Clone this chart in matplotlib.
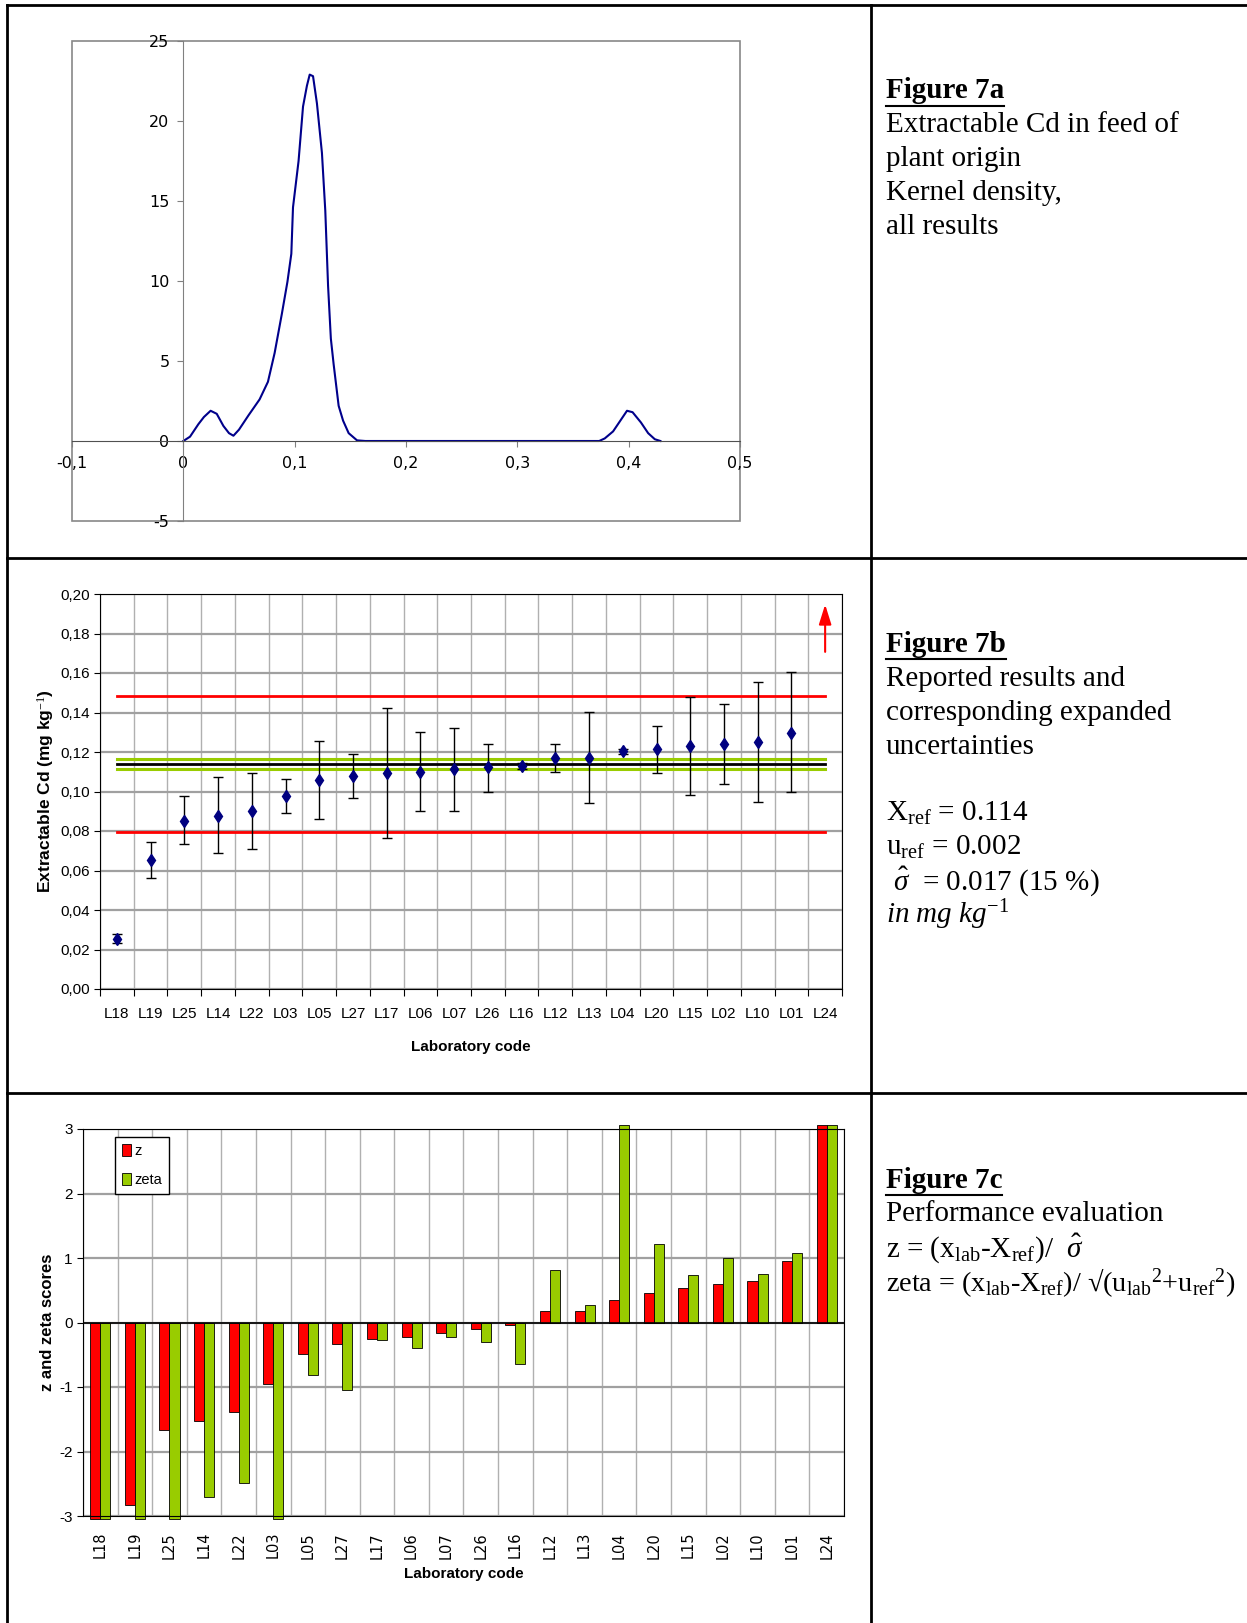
import matplotlib
matplotlib.use('Agg')
import matplotlib.pyplot as plt
from matplotlib import font_manager
from matplotlib.lines import Line2D
from matplotlib.patches import Rectangle
import numpy as np

# Figure 7a - kernel density
kd_x = [0.0, 0.006, 0.0135, 0.0185, 0.0245, 0.030, 0.036, 0.041, 0.045, 0.050,
        0.0585, 0.0685, 0.076, 0.082, 0.0885, 0.0935, 0.097, 0.0985, 0.1035, 0.1075,
        0.111, 0.1135, 0.1165, 0.120, 0.1245, 0.1275, 0.130, 0.1325, 0.135, 0.1395,
        0.1435, 0.1485, 0.156, 0.1635, 0.3735, 0.3785, 0.386, 0.3925, 0.3985, 0.4035,
        0.411, 0.4175, 0.4235, 0.4285]
kd_y = [0.0, 0.27, 1.05, 1.5, 1.89, 1.7, 0.94, 0.49, 0.33, 0.71,
        1.6, 2.6, 3.7, 5.5, 7.95, 9.95, 11.7, 14.6, 17.5, 20.9,
        22.2, 22.9, 22.8, 21.1, 18.0, 14.4, 9.7, 6.4, 4.8, 2.2,
        1.27, 0.49, 0.04, 0.0, 0.0, 0.16, 0.6, 1.27, 1.89, 1.8,
        1.16, 0.49, 0.11, 0.0]

# Figure 7b - reported results with expanded uncertainties (mg/kg)
labs = ['L18', 'L19', 'L25', 'L14', 'L22', 'L03', 'L05', 'L27', 'L17', 'L06', 'L07',
        'L26', 'L16', 'L12', 'L13', 'L04', 'L20', 'L15', 'L02', 'L10', 'L01', 'L24']
cd_val = [0.0253, 0.0652, 0.0853, 0.0878, 0.0901, 0.0976, 0.1057, 0.1079, 0.1092, 0.1101, 0.1113,
          0.1122, 0.1128, 0.1170, 0.1168, 0.1204, 0.1217, 0.1231, 0.1238, 0.1250, 0.1298, np.nan]
cd_hi = [0.0277, 0.0745, 0.0976, 0.1072, 0.1092, 0.1065, 0.1257, 0.1188, 0.1423, 0.1300, 0.1320,
         0.1238, 0.1142, 0.1238, 0.1401, 0.1216, 0.1334, 0.1476, 0.1443, 0.1553, 0.1603, np.nan]
cd_lo = [0.0235, 0.0563, 0.0736, 0.0687, 0.0707, 0.0889, 0.0860, 0.0969, 0.0764, 0.0901, 0.0899,
         0.0997, 0.1113, 0.1099, 0.0942, 0.1190, 0.1092, 0.0983, 0.1038, 0.0949, 0.0997, np.nan]
x_ref = 0.114
lim_red = [0.0796, 0.1486]
lim_green = [0.1113, 0.1167]
arrow_from, arrow_to = 0.1707, 0.1947   # L24 off scale
cd_ticks = [0.00, 0.02, 0.04, 0.06, 0.08, 0.10, 0.12, 0.14, 0.16, 0.18, 0.20]

# Figure 7c - z and zeta scores
z_score = [-3.05, -2.83, -1.66, -1.52, -1.39, -0.96, -0.485, -0.33, -0.25, -0.23, -0.17,
           -0.105, -0.04, 0.18, 0.18, 0.35, 0.45, 0.54, 0.60, 0.64, 0.95, 3.06]
zeta_score = [-3.05, -3.05, -3.05, -2.70, -2.49, -3.05, -0.81, -1.04, -0.27, -0.395, -0.23,
              -0.31, -0.65, 0.81, 0.27, 3.06, 1.22, 0.73, 1.00, 0.75, 1.075, 3.06]

W, H = 1247, 1623
names = {f.name for f in font_manager.fontManager.ttflist}
narrow = 'Liberation Sans Narrow' if 'Liberation Sans Narrow' in names else 'Liberation Sans'
plt.rcParams['font.family'] = ['Liberation Sans', 'DejaVu Sans']
plt.rcParams['mathtext.fontset'] = 'custom'
plt.rcParams['mathtext.rm'] = 'Liberation Serif'
plt.rcParams['mathtext.it'] = 'Liberation Serif:italic'

fig = plt.figure(figsize=(W / 100, H / 100), dpi=100)


def box(l, t, r, b):
    return [l / W, 1 - b / H, (r - l) / W, (b - t) / H]


def fline(x0, y0, x1, y1, lw=2):
    fig.add_artist(Line2D([x0 / W, x1 / W], [1 - y0 / H, 1 - y1 / H],
                          transform=fig.transFigure, color='black', lw=lw))


# table frame
fline(7, 4.5, W, 4.5)
fline(7, 4.5, 7, H)
fline(871, 4.5, 871, H)
fline(7, 558, W, 558)
fline(7, 1093, W, 1093)

# ---------- 7a ----------
ax1 = fig.add_axes(box(72, 41, 740, 521))
ax1.plot(kd_x, kd_y, color='#00008B', lw=1.5)
ax1.set_xlim(-0.1, 0.5)
ax1.set_ylim(-5, 25)
ax1.spines['left'].set_position(('data', 0))
ax1.spines['bottom'].set_position(('data', 0))
ax1.spines['left'].set_color('#808080')
ax1.spines['bottom'].set_color('#505050')
ax1.spines['top'].set_visible(False)
ax1.spines['right'].set_visible(False)
ax1.add_patch(Rectangle((0, 0), 1, 1, transform=ax1.transAxes, fill=False,
                        edgecolor='#888888', lw=1.2, clip_on=False))
xt = [-0.1, 0, 0.1, 0.2, 0.3, 0.4, 0.5]
ax1.set_xticks(xt)
ax1.set_xticklabels(['-0,1', '0', '0,1', '0,2', '0,3', '0,4', '0,5'], fontfamily='DejaVu Sans', fontsize=11.5)
ax1.set_yticks([-5, 0, 5, 10, 15, 20, 25])
ax1.set_yticklabels(['-5', '0', '5', '10', '15', '20', '25'], fontfamily='DejaVu Sans', fontsize=11.5)
ax1.tick_params(direction='out', length=4, colors='#808080', labelcolor='black')
ax1.tick_params(axis='x', pad=7)
ax1.tick_params(axis='y', pad=6)

# ---------- 7b ----------
idx = np.arange(len(labs))
ax2 = fig.add_axes(box(100, 594, 842, 989))
ax2.set_xlim(-0.5, len(labs) - 0.5)
ax2.set_ylim(0, 0.20)
ax2.set_axisbelow(True)
ax2.set_xticks(np.arange(-0.5, len(labs)), minor=False)
ax2.set_xticklabels([])
ax2.set_xticks(idx, minor=True)
ax2.set_xticklabels(labs, minor=True, fontfamily=narrow, fontsize=11)
ax2.tick_params(axis='x', which='major', length=5, direction='out')
ax2.tick_params(axis='x', which='minor', length=0, pad=13)
ax2.set_yticks(cd_ticks)
ax2.set_yticklabels([f'{t:.2f}'.replace('.', ',') for t in cd_ticks], fontfamily=narrow, fontsize=11)
ax2.tick_params(axis='y', length=4, direction='out')
ax2.grid(axis='y', color='#a0a0a0', lw=1.6)
ax2.grid(axis='x', which='major', color='#b0b0b0', lw=1)
for v in lim_red:
    ax2.plot(idx, np.full(len(idx), v), color='red', lw=2)
for v in lim_green:
    ax2.plot(idx, np.full(len(idx), v), color='#99CC00', lw=2.2)
ax2.plot(idx, np.full(len(idx), x_ref), color='black', lw=2)
val = np.array(cd_val)
err = [val - np.array(cd_lo), np.array(cd_hi) - val]
ax2.errorbar(idx, val, yerr=err, fmt='none', ecolor='black', elinewidth=1, capsize=3.5, capthick=1)
ax2.plot(idx, val, 'd', color='#000080', ms=6)
ax2.annotate('', xy=(idx[-1], arrow_to), xytext=(idx[-1], arrow_from),
             arrowprops=dict(arrowstyle='-|>,head_length=0.8,head_width=0.25',
                             color='red', lw=1.5, mutation_scale=15, shrinkA=0, shrinkB=0))
for s in ax2.spines.values():
    s.set_color('black')
ax2.set_xlabel('Laboratory code', fontfamily=narrow, fontweight='bold', fontsize=11, labelpad=14)
ax2.set_ylabel('Extractable Cd (mg kg$^{-1}$)', fontweight='bold', fontsize=12.5, labelpad=3)

# ---------- 7c ----------
ax3 = fig.add_axes(box(83, 1129, 844, 1516))
ax3.set_xlim(-0.5, len(labs) - 0.5)
ax3.set_ylim(-3, 3)
ax3.set_axisbelow(True)
ax3.bar(idx - 0.145, z_score, width=0.29, color='#FF0000', edgecolor='black', lw=0.6,
        label='z', clip_on=False)
ax3.bar(idx + 0.145, zeta_score, width=0.29, color='#99CC00', edgecolor='black', lw=0.6,
        label='zeta', clip_on=False)
ax3.axhline(0, color='black', lw=1.2)
ax3.set_xticks(np.arange(-0.5, len(labs)), minor=False)
ax3.set_xticklabels([])
ax3.set_xticks(idx, minor=True)
ax3.set_xticklabels(labs, minor=True, rotation=90, fontsize=10.5, fontfamily='DejaVu Sans')
ax3.tick_params(axis='x', which='both', length=0)
ax3.tick_params(axis='x', which='minor', pad=11.5)
ax3.set_yticks([-3, -2, -1, 0, 1, 2, 3])
ax3.set_yticklabels(['-3', '-2', '-1', '0', '1', '2', '3'], fontfamily=narrow, fontsize=11)
ax3.tick_params(axis='y', length=4, direction='out')
ax3.grid(axis='y', color='#a0a0a0', lw=1.6)
ax3.grid(axis='x', which='major', color='#b0b0b0', lw=1)
for s in ax3.spines.values():
    s.set_color('black')
ax3.set_xlabel('Laboratory code', fontfamily=narrow, fontweight='bold', fontsize=11, labelpad=6)
ax3.set_ylabel('z and zeta scores', fontweight='bold', fontsize=12, labelpad=3)
leg = ax3.legend(loc='upper left', bbox_to_anchor=(0.042, 0.98), borderaxespad=0, fancybox=False,
                 edgecolor='black', framealpha=1, handlelength=0.6, handleheight=0.9,
                 labelspacing=1.0, borderpad=0.5, handletextpad=0.2,
                 prop={'family': narrow, 'size': 10.5})
leg.get_frame().set_linewidth(1)

# ---------- text column ----------
serif = ['Liberation Serif', 'DejaVu Serif']
tx = 886
heads = []


def put(y, s, **kw):
    return fig.text(tx / W, 1 - y / H, s, fontsize=21, family=serif, va='center', ha='left', **kw)


heads.append(put(91, 'Figure 7a', fontweight='bold'))
put(125, 'Extractable Cd in feed of')
put(159, 'plant origin')
put(193, 'Kernel density,')
put(227, 'all results')

heads.append(put(645, 'Figure 7b', fontweight='bold'))
put(679, 'Reported results and')
put(713, 'corresponding expanded')
put(747, 'uncertainties')
put(813, r'X$_{\mathrm{ref}}$ = 0.114')
put(847, r'u$_{\mathrm{ref}}$ = 0.002')
put(881, r' $\hat{\sigma}$  = 0.017 (15 %)')
put(915, r'in mg kg$^{\mathit{-1}}$', style='italic')

heads.append(put(1180, 'Figure 7c', fontweight='bold'))
put(1214, 'Performance evaluation')
put(1248, r'z = (x$_{\mathrm{lab}}$-X$_{\mathrm{ref}}$)/  $\hat{\sigma}$')
fig.text(tx / W, 1 - 1283 / H,
         r'zeta = (x$_{\mathrm{lab}}$-X$_{\mathrm{ref}}$)/ √(u$_{\mathrm{lab}}{}^{2}$+u$_{\mathrm{ref}}{}^{2}$)',
         fontsize=20.3, family=serif, va='center', ha='left')

fig.canvas.draw()
r = fig.canvas.get_renderer()
for t in heads:
    bb = t.get_window_extent(r)
    fig.add_artist(Line2D([bb.x0 / W, bb.x1 / W], [(bb.y0 - 1) / H] * 2,
                          transform=fig.transFigure, color='black', lw=1.5))

fig.savefig('out.png', dpi=100)
